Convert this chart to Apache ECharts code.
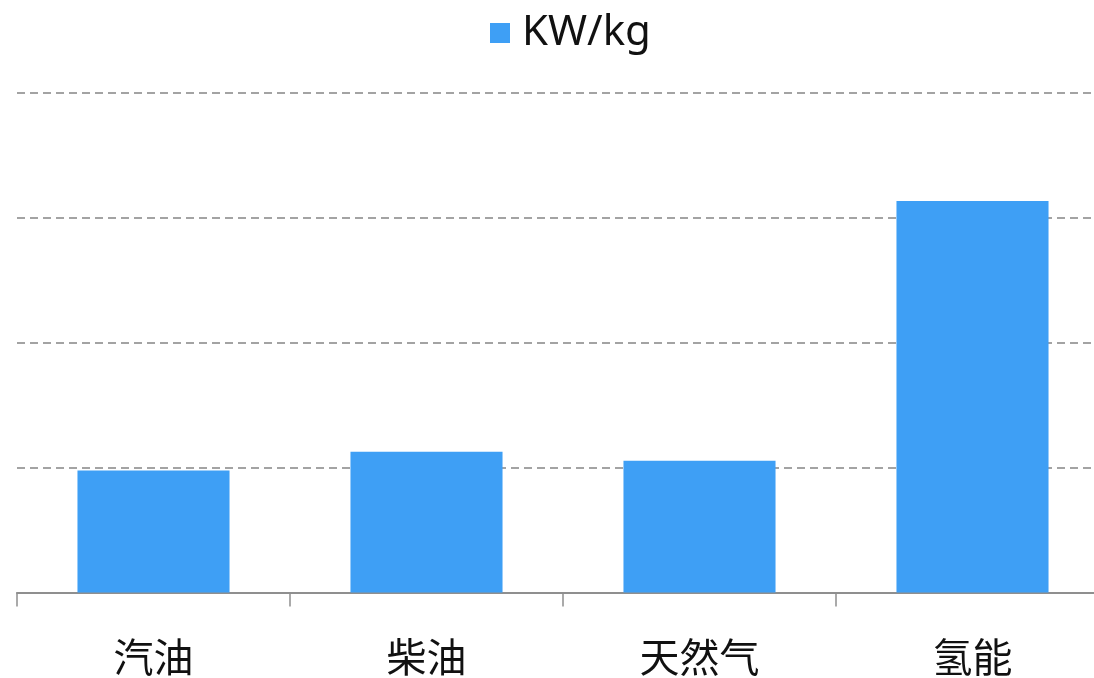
<!DOCTYPE html>
<html>
<head>
<meta charset="utf-8">
<script src="https://cdn.jsdelivr.net/npm/echarts@6/dist/echarts.min.js"></script>
<style>
  html, body { margin: 0; padding: 0; background: #fff; }
  #chart { width: 1094px; height: 678px; }
</style>
</head>
<body>
<div id="chart"></div>
<script>
// Energy per kilogram for each fuel type
const categories = ['汽油', '柴油', '天然气', '氢能'];
const seriesName = 'KW/kg';
const values = [12.2, 14.1, 13.2, 39.2];

const chart = echarts.init(document.getElementById('chart'));
chart.setOption({
  animation: false,
  legend: {
    top: 7,
    left: 485,
    itemWidth: 20,
    itemHeight: 20,
    itemGap: 10,
    icon: 'rect',
    textStyle: {
      fontFamily: '"Noto Sans", "Noto Sans CJK SC", sans-serif',
      fontSize: 42,
      color: '#111',
      padding: [0, 0, 0, 7]
    },
    data: [seriesName]
  },
  grid: {
    left: 17,
    right: -15,
    top: 93,
    bottom: 85.5,
    containLabel: false,
    outerBoundsMode: 'none'
  },
  xAxis: {
    type: 'category',
    data: categories,
    axisLine: { lineStyle: { color: '#8f8f8f', width: 2 } },
    axisTick: { show: true, length: 14, lineStyle: { color: '#8f8f8f', width: 1.5 } },
    axisLabel: {
      margin: 44,
      fontFamily: '"Noto Sans CJK SC", sans-serif',
      fontSize: 40,
      color: '#111'
    }
  },
  yAxis: {
    type: 'value',
    min: 0,
    max: 50,
    interval: 12.5,
    axisLabel: { show: false },
    axisLine: { show: false },
    axisTick: { show: false },
    splitLine: {
      lineStyle: { color: '#858585', width: 1.5, type: [8, 5] }
    }
  },
  series: [{
    name: seriesName,
    type: 'bar',
    data: values,
    barWidth: '55.7%',
    itemStyle: { color: '#3E9FF5' }
  }]
});
</script>
</body>
</html>
